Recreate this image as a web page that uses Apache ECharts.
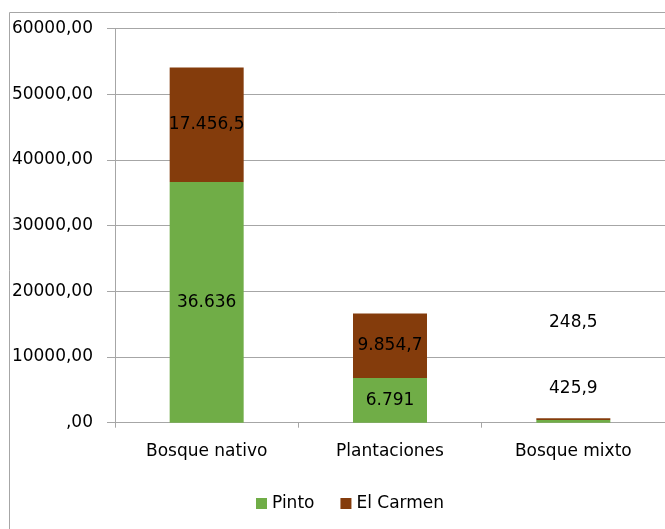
<!DOCTYPE html>
<html>
<head>
<meta charset="utf-8">
<script src="https://cdn.jsdelivr.net/npm/echarts@6/dist/echarts.min.js"></script>
<style>
html,body{margin:0;padding:0;background:#fff;}
#chart{width:665px;height:529px;}
</style>
</head>
<body>
<div id="chart"></div>
<script>
const categories = ['Bosque nativo', 'Plantaciones', 'Bosque mixto'];
const pinto = [36636, 6791, 425.9];
const elCarmen = [17456.5, 9854.7, 248.5];
const pintoLabels = ['36.636', '6.791', '425,9'];
const carmenLabels = ['17.456,5', '9.854,7', '248,5'];
const yTicks = [0, 10000, 20000, 30000, 40000, 50000, 60000];

const FONT = 'DejaVu Sans';
const FS = 17;
const chart = echarts.init(document.getElementById('chart'), null, {renderer: 'canvas'});

function buildData(values, labels, floatOffsets) {
  return values.map((v, i) => {
    const item = {value: v, label: {formatter: labels[i]}};
    if (floatOffsets[i] !== null) {
      item.label.offset = [0, floatOffsets[i]];
    }
    return item;
  });
}

const labelStyle = {show: true, position: 'inside', color: '#000', fontFamily: FONT, fontSize: FS};

chart.setOption({
  animation: false,
  backgroundColor: '#fff',
  textStyle: {fontFamily: FONT},
  graphic: [
    {type: 'line', shape: {x1: 9.5, y1: 12.5, x2: 665, y2: 12.5}, style: {stroke: '#A6A6A6', lineWidth: 1}, silent: true},
    {type: 'line', shape: {x1: 9.5, y1: 12.5, x2: 9.5, y2: 529}, style: {stroke: '#A6A6A6', lineWidth: 1}, silent: true}
  ],
  grid: {left: 115, right: -4, top: 28.7, bottom: 529 - 422.7, containLabel: false},
  legend: {
    left: 251, top: 490,
    itemWidth: 11, itemHeight: 11, itemGap: 26,
    icon: 'rect',
    textStyle: {fontFamily: FONT, fontSize: FS, color: '#000'},
    data: ['Pinto', 'El Carmen']
  },
  xAxis: {
    type: 'category',
    data: categories,
    axisLine: {lineStyle: {color: '#A6A6A6', width: 1}},
    axisTick: {show: true, length: 5, alignWithLabel: false, lineStyle: {color: '#A6A6A6'}},
    axisLabel: {color: '#000', fontFamily: FONT, fontSize: FS, margin: 20}
  },
  yAxis: {
    type: 'value',
    min: yTicks[0], max: yTicks[yTicks.length - 1], interval: yTicks[1] - yTicks[0],
    axisLine: {show: true, lineStyle: {color: '#A6A6A6', width: 1}},
    axisTick: {show: true, inside: false, length: 8, lineStyle: {color: '#A6A6A6'}},
    splitLine: {lineStyle: {color: '#A6A6A6', width: 1}},
    axisLabel: {
      color: '#000', fontFamily: FONT, fontSize: FS, margin: 22,
      formatter: v => (v === 0 ? '' : String(v)) + ',00'
    }
  },
  series: [
    {
      name: 'Pinto', type: 'bar', stack: 'total', barWidth: 74,
      itemStyle: {color: '#70AD47'},
      label: labelStyle,
      data: buildData(pinto, pintoLabels, [null, null, -33])
    },
    {
      name: 'El Carmen', type: 'bar', stack: 'total', barWidth: 74,
      itemStyle: {color: '#843C0C'},
      label: labelStyle,
      data: buildData(elCarmen, carmenLabels, [null, null, -97])
    }
  ]
});
</script>
</body>
</html>
